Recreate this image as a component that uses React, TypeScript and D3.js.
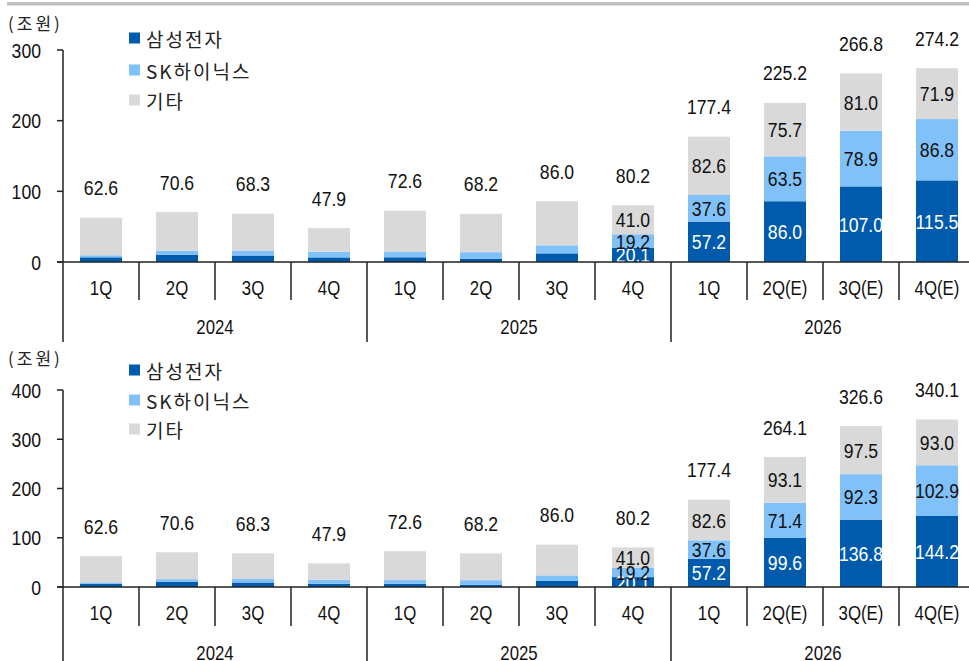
import React from 'react';
import { scaleBand, scaleLinear } from 'd3';

const quarters = ['1Q', '2Q', '3Q', '4Q', '1Q', '2Q', '3Q', '4Q', '1Q', '2Q(E)', '3Q(E)', '4Q(E)'];
const years = ['2024', '2025', '2026'];
const seriesNames = ['삼성전자', 'SK하이닉스', '기타'];
const colors = ['#005BAC', '#80C1FA', '#D9D9D9'];

// 상단 차트
const samsungTop = [6.6, 10.4, 9.2, 6.5, 6.7, 4.7, 12.2, 20.1, 57.2, 86.0, 107.0, 115.5];
const hynixTop = [2.9, 5.5, 7.0, 8.1, 7.4, 9.2, 11.4, 19.2, 37.6, 63.5, 78.9, 86.8];
const otherTop = [53.1, 54.7, 52.1, 33.3, 58.5, 54.3, 62.4, 41.0, 82.6, 75.7, 81.0, 71.9];
const totalTop = [62.6, 70.6, 68.3, 47.9, 72.6, 68.2, 86.0, 80.2, 177.4, 225.2, 266.8, 274.2];
const ticksTop = [0, 100, 200, 300];

// 하단 차트
const samsungBottom = [6.6, 10.4, 9.2, 6.5, 6.7, 4.7, 12.2, 20.1, 57.2, 99.6, 136.8, 144.2];
const hynixBottom = [2.9, 5.5, 7.0, 8.1, 7.4, 9.2, 11.4, 19.2, 37.6, 71.4, 92.3, 102.9];
const otherBottom = [53.1, 54.7, 52.1, 33.3, 58.5, 54.3, 62.4, 41.0, 82.6, 93.1, 97.5, 93.0];
const totalBottom = [62.6, 70.6, 68.3, 47.9, 72.6, 68.2, 86.0, 80.2, 177.4, 264.1, 326.6, 340.1];
const ticksBottom = [0, 100, 200, 300, 400];

const LABEL_FROM = 7; // 4Q25부터 구간 값 표시
const numFont = "'Liberation Sans', Arial, sans-serif";
const krFont = "'Noto Sans CJK KR', 'Noto Sans', sans-serif";

const NText = ({ x, y, children, anchor = 'middle', fill = '#111', size = 21 }: any) => (
  <text
    transform={`translate(${x},${y}) scale(0.84,1)`}
    textAnchor={anchor}
    dominantBaseline="central"
    fontFamily={numFont}
    fontSize={size}
    fill={fill}
  >
    {children}
  </text>
);

const Panel = ({ samsung, hynix, other, total, ticks, top, zero, catY, yearY, qEnd, end, unitY, legendY }: any) => {
  const x = scaleBand<number>()
    .domain(quarters.map((_, i) => i))
    .range([63, 975])
    .paddingInner(0.447)
    .paddingOuter(0.2235);
  const y = scaleLinear().domain([0, ticks[ticks.length - 1]]).range([zero, top]);
  const step = x.step();
  const series = [samsung, hynix, other];

  return (
    <g>
      <text x={8} y={unitY} dominantBaseline="central" fontFamily={krFont} fontSize={17} letterSpacing={3} fill="#222">
        (조원)
      </text>
      {seriesNames.map((name, k) => (
        <g key={name}>
          <rect x={129} y={legendY[k] - 5.5} width={11} height={11} fill={colors[k]} />
          <text x={146} y={legendY[k]} dominantBaseline="central" fontFamily={krFont} fontSize={19} letterSpacing={2} fill="#222">
            {name}
          </text>
        </g>
      ))}
      {quarters.map((q, i) => {
        let base = 0;
        return (
          <g key={i}>
            {series.map((s: number[], k: number) => {
              const y0 = y(base);
              base += s[i];
              const y1 = y(base);
              return <rect key={k} x={x(i)} y={y1} width={x.bandwidth()} height={y0 - y1} fill={colors[k]} />;
            })}
          </g>
        );
      })}
      {quarters.map((q, i) => {
        if (i < LABEL_FROM) return null;
        let base = 0;
        return (
          <g key={'l' + i}>
            {series.map((s: number[], k: number) => {
              const mid = y(base + s[i] / 2);
              base += s[i];
              return (
                <NText key={k} x={(x(i) as number) + x.bandwidth() / 2} y={mid} fill={k === 0 ? '#fff' : '#111'}>
                  {s[i].toFixed(1)}
                </NText>
              );
            })}
          </g>
        );
      })}
      {total.map((t: number, i: number) => (
        <NText key={'t' + i} x={(x(i) as number) + x.bandwidth() / 2} y={y(t) - 30}>
          {t.toFixed(1)}
        </NText>
      ))}
      <line x1={63} x2={63} y1={top} y2={end} stroke="#222" strokeWidth={1.5} />
      <line x1={57} x2={969} y1={zero} y2={zero} stroke="#222" strokeWidth={1.5} />
      {ticks.map((t: number) => (
        <g key={'k' + t}>
          <line x1={57} x2={63} y1={y(t)} y2={y(t)} stroke="#222" strokeWidth={1.5} />
          <NText x={41} y={y(t)} anchor="end">
            {t}
          </NText>
        </g>
      ))}
      {quarters.map((q, i) => {
        const bx = 63 + step * (i + 1);
        const isYear = (i + 1) % 4 === 0;
        return (
          <g key={'c' + i}>
            <NText x={63 + step * (i + 0.5)} y={catY} size={20}>
              {q}
            </NText>
            <line x1={bx} x2={bx} y1={zero} y2={isYear ? end : qEnd} stroke="#222" strokeWidth={1.5} />
          </g>
        );
      })}
      {years.map((yr, j) => (
        <NText key={yr} x={63 + step * (j * 4 + 2)} y={yearY} size={20}>
          {yr}
        </NText>
      ))}
    </g>
  );
};

export default function App() {
  return (
    <svg width={969} height={661} style={{ position: 'absolute', left: 0, top: 0, background: '#fff' }}>
      <rect x={7} y={2} width={962} height={3.5} fill="#C0C0C0" />
      <Panel
        samsung={samsungTop}
        hynix={hynixTop}
        other={otherTop}
        total={totalTop}
        ticks={ticksTop}
        top={50}
        zero={262}
        catY={288}
        yearY={327}
        qEnd={300}
        end={342}
        unitY={22}
        legendY={[38, 70, 100]}
      />
      <Panel
        samsung={samsungBottom}
        hynix={hynixBottom}
        other={otherBottom}
        total={totalBottom}
        ticks={ticksBottom}
        top={390}
        zero={587}
        catY={613}
        yearY={653}
        qEnd={626}
        end={661}
        unitY={357}
        legendY={[370, 400, 429]}
      />
    </svg>
  );
}
